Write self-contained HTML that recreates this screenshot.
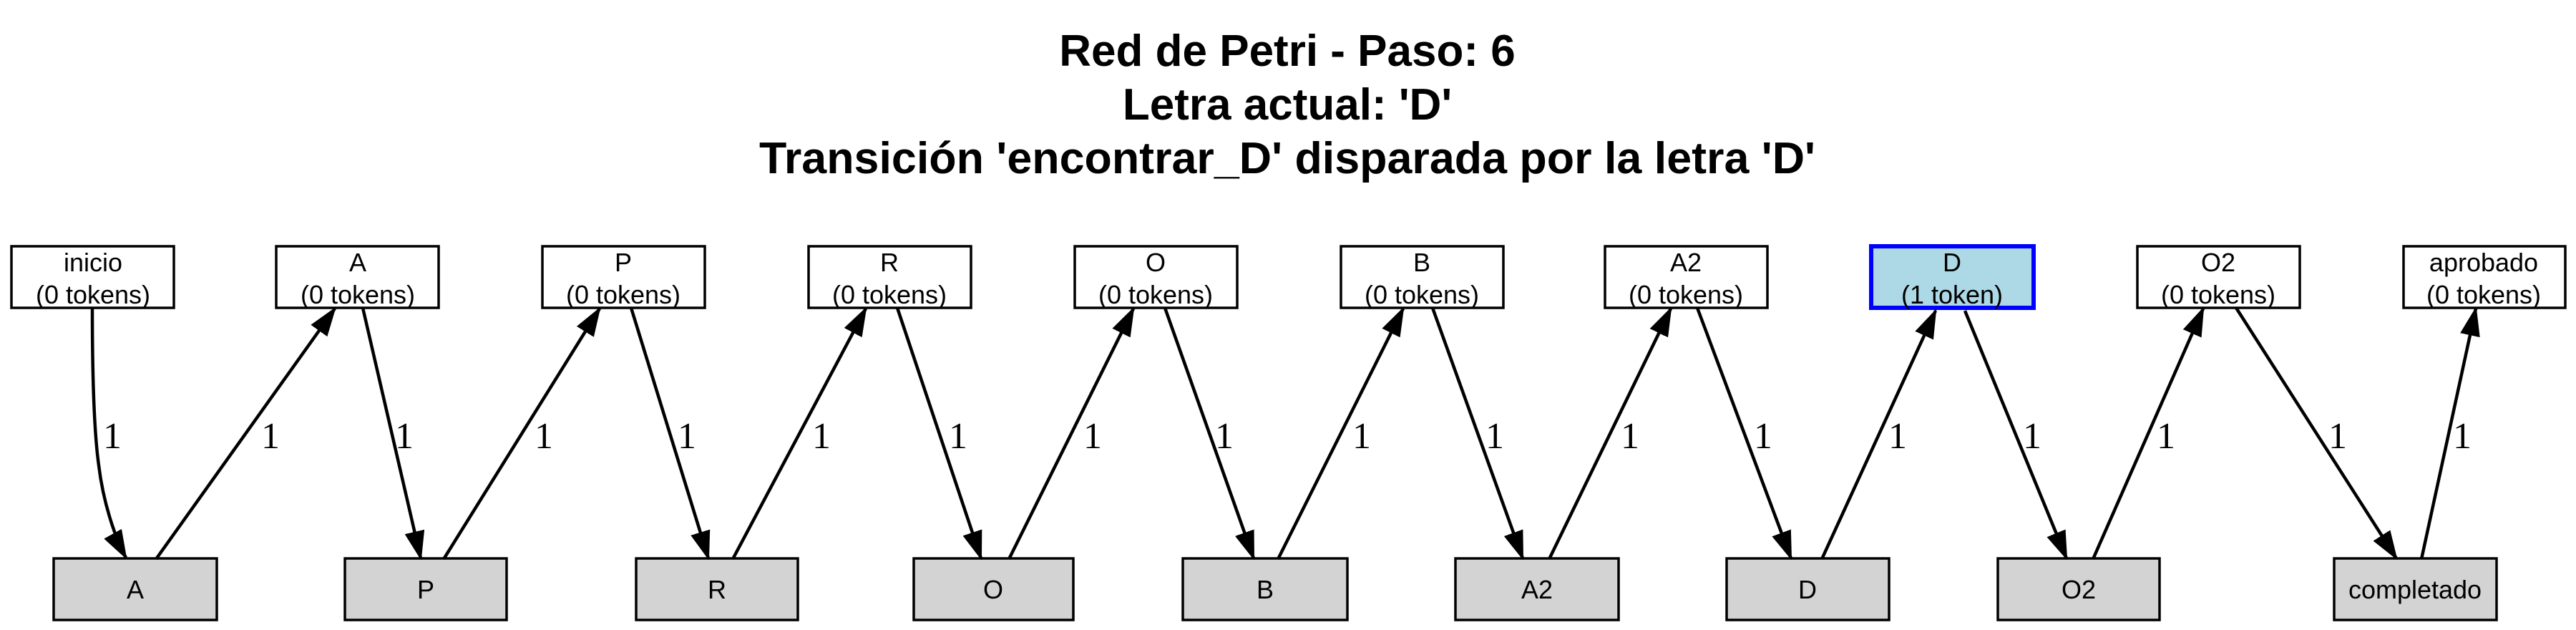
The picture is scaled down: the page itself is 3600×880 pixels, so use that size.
<!DOCTYPE html>
<html><head><meta charset="utf-8"><style>html,body{margin:0;padding:0;background:#fff}svg{display:block}</style></head>
<body>
<svg width="3600" height="880" viewBox="0 0 3600 880" xmlns="http://www.w3.org/2000/svg">
<defs>
<marker id="ah" markerWidth="40" markerHeight="28" refX="38" refY="14" orient="auto" markerUnits="userSpaceOnUse" viewBox="0 0 40 28">
<path d="M0,1 L38,14 L0,27 Z" fill="#000" stroke="#000" stroke-width="2"/>
</marker>
</defs>
<g font-family="Liberation Sans, Arial, sans-serif" font-weight="bold" font-size="62" text-anchor="middle" fill="#000">
<text x="1799" y="92">Red de Petri - Paso: 6</text>
<text x="1799" y="167">Letra actual: 'D'</text>
<text x="1799" y="242" textLength="1476" lengthAdjust="spacingAndGlyphs">Transición 'encontrar_D' disparada por la letra 'D'</text>
</g>
<g stroke="#000" stroke-width="3.5" fill="#fff">
<rect x="16" y="344" width="227" height="86"/>
<rect x="386" y="344" width="227" height="86"/>
<rect x="758" y="344" width="227" height="86"/>
<rect x="1130" y="344" width="227" height="86"/>
<rect x="1502" y="344" width="227" height="86"/>
<rect x="1874" y="344" width="227" height="86"/>
<rect x="2243" y="344" width="227" height="86"/>
<rect x="2615" y="344" width="227" height="86" fill="#add8e6" stroke="#0000ff" stroke-width="6"/>
<rect x="2987" y="344" width="227" height="86"/>
<rect x="3359" y="344" width="226" height="86"/>
</g>
<g stroke="#000" stroke-width="3.5" fill="#d3d3d3">
<rect x="75" y="780" width="228" height="86"/>
<rect x="482" y="780" width="226" height="86"/>
<rect x="889" y="780" width="226" height="86"/>
<rect x="1277" y="780" width="223" height="86"/>
<rect x="1653" y="780" width="230" height="86"/>
<rect x="2034" y="780" width="228" height="86"/>
<rect x="2413" y="780" width="227" height="86"/>
<rect x="2792" y="780" width="226" height="86"/>
<rect x="3262" y="780" width="227" height="86"/>
</g>
<g font-family="Liberation Sans, Arial, sans-serif" font-size="36" text-anchor="middle" fill="#000">
<text x="130" y="379">inicio</text><text x="130" y="424">(0 tokens)</text>
<text x="500" y="379">A</text><text x="500" y="424">(0 tokens)</text>
<text x="871" y="379">P</text><text x="871" y="424">(0 tokens)</text>
<text x="1243" y="379">R</text><text x="1243" y="424">(0 tokens)</text>
<text x="1615" y="379">O</text><text x="1615" y="424">(0 tokens)</text>
<text x="1987" y="379">B</text><text x="1987" y="424">(0 tokens)</text>
<text x="2356" y="379">A2</text><text x="2356" y="424">(0 tokens)</text>
<text x="2728" y="379">D</text><text x="2728" y="424">(1 token)</text>
<text x="3100" y="379">O2</text><text x="3100" y="424">(0 tokens)</text>
<text x="3471" y="379">aprobado</text><text x="3471" y="424">(0 tokens)</text>
<text x="189" y="836">A</text>
<text x="595" y="836">P</text>
<text x="1002" y="836">R</text>
<text x="1388" y="836">O</text>
<text x="1768" y="836">B</text>
<text x="2148" y="836">A2</text>
<text x="2526" y="836">D</text>
<text x="2905" y="836">O2</text>
<text x="3375" y="836">completado</text>
</g>
<g stroke="#000" stroke-width="4.5" fill="none" marker-end="url(#ah)">
<path d="M129,430 C129,520 131,600 138,650 C144,700 160,750 176,779"/>
<line x1="218" y1="781" x2="468" y2="431"/>
<line x1="507" y1="430" x2="588" y2="780"/>
<line x1="620" y1="781" x2="838" y2="431"/>
<line x1="882" y1="430" x2="990" y2="780"/>
<line x1="1024" y1="781" x2="1210" y2="431"/>
<line x1="1254" y1="430" x2="1371" y2="780"/>
<line x1="1410" y1="781" x2="1584" y2="431"/>
<line x1="1628" y1="430" x2="1752" y2="780"/>
<line x1="1786" y1="781" x2="1961" y2="431"/>
<line x1="2002" y1="430" x2="2128" y2="780"/>
<line x1="2165" y1="781" x2="2335" y2="431"/>
<line x1="2372" y1="430" x2="2503" y2="780"/>
<line x1="2546" y1="781" x2="2705" y2="434"/>
<line x1="2746" y1="434" x2="2888" y2="780"/>
<line x1="2925" y1="781" x2="3079" y2="431"/>
<line x1="3125" y1="430" x2="3349" y2="780"/>
<line x1="3384" y1="781" x2="3460" y2="431"/>
</g>
<g font-family="Liberation Serif, Times New Roman, serif" font-size="52" text-anchor="middle" fill="#000">
<text x="157" y="626">1</text>
<text x="378" y="626">1</text>
<text x="565" y="626">1</text>
<text x="760" y="626">1</text>
<text x="960" y="626">1</text>
<text x="1148" y="626">1</text>
<text x="1339" y="626">1</text>
<text x="1527" y="626">1</text>
<text x="1711" y="626">1</text>
<text x="1903" y="626">1</text>
<text x="2089" y="626">1</text>
<text x="2278" y="626">1</text>
<text x="2464" y="626">1</text>
<text x="2652" y="626">1</text>
<text x="2840" y="626">1</text>
<text x="3027" y="626">1</text>
<text x="3267" y="626">1</text>
<text x="3441" y="626">1</text>
</g>
</svg>
</body></html>
